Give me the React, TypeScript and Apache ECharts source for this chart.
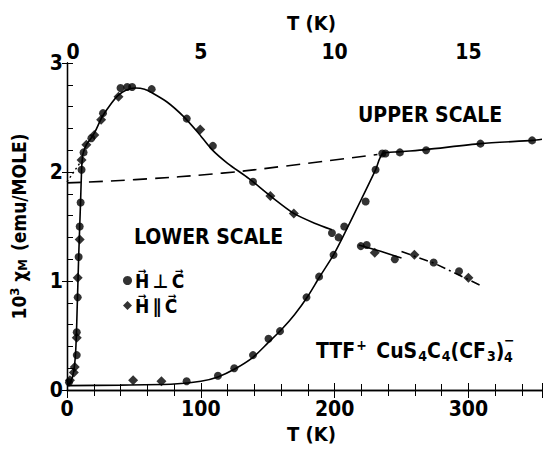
import React, { useEffect, useRef } from "react";
import * as echarts from "echarts";

// Lower temperature scale (K), 10^3 chi_M
const lowerPerp: [number, number][] = [
  [1.5, 0.07], [7.3, 0.32], [7.3, 0.53], [8.0, 0.85], [8.7, 1.22], [9.5, 1.5],
  [10.2, 1.72], [10.9, 2.02], [12.4, 2.18], [18.2, 2.31], [26.9, 2.54], [40, 2.77],
  [45, 2.78], [48.7, 2.78], [63.3, 2.76], [89.5, 2.49], [109, 2.24], [139, 1.91],
  [198, 1.44], [219.6, 1.32], [224, 1.33], [245, 1.2], [274, 1.17], [293, 1.09],
];
const lowerPar: [number, number][] = [
  [2.2, 0.09], [5.1, 0.16], [5.8, 0.21], [7.3, 0.48], [8.0, 1.03], [9.5, 1.38],
  [10.9, 2.11], [14.5, 2.25], [20.4, 2.34], [25.5, 2.48], [38.5, 2.69], [99.6, 2.39],
  [152, 1.78], [169.5, 1.62], [230, 1.26], [259.6, 1.24], [300, 1.03],
];
const lowerFit: [number, number][] = [
  [0, 0.05], [2, 0.06], [3.6, 0.1], [5, 0.17], [6.2, 0.3], [7, 0.5], [7.6, 0.75],
  [8.2, 1.0], [8.8, 1.25], [9.5, 1.5], [10.2, 1.75], [10.9, 2.02], [11.6, 2.14],
  [12.5, 2.19], [14.5, 2.25], [18, 2.31], [21, 2.37], [26, 2.5], [32, 2.61], [38, 2.7],
  [44, 2.75], [51, 2.77], [58, 2.76], [63, 2.73], [75, 2.64], [87, 2.51], [98, 2.36],
  [108, 2.21], [120, 2.08], [136, 1.94], [152, 1.78], [169.5, 1.62], [185, 1.53], [198, 1.47],
];
const lowerExtSolid: [number, number][] = [[218, 1.33], [235, 1.27], [250, 1.21]];
const lowerExtDash: [number, number][] = [[250, 1.27], [275, 1.16], [309, 0.96]];
const lowerExtrap: [number, number][] = [[0, 1.91], [9.5, 2.08]];

// Upper temperature scale (K)
const upperPerp: [number, number][] = [
  [4.47, 0.08], [5.64, 0.13], [6.25, 0.2], [6.95, 0.32], [7.53, 0.47], [7.96, 0.54],
  [8.95, 0.85], [9.42, 1.04], [9.96, 1.24], [10.15, 1.4], [10.36, 1.5], [11.16, 1.73],
  [11.53, 2.02], [11.78, 2.17], [11.9, 2.17], [12.44, 2.18], [13.42, 2.2], [15.45, 2.26],
  [17.38, 2.29],
];
const upperPar: [number, number][] = [[2.47, 0.09], [3.53, 0.08]];
const upperFit: [number, number][] = [
  [0, 0.04], [2, 0.045], [4, 0.055], [5, 0.08], [5.64, 0.12], [6.25, 0.19], [6.95, 0.3],
  [7.5, 0.43], [8, 0.55], [8.5, 0.69], [9, 0.86], [9.42, 1.03], [9.96, 1.24], [10.3, 1.4],
  [10.6, 1.55], [11, 1.75], [11.53, 2.02], [11.8, 2.17], [12.4, 2.185], [13.4, 2.205],
  [15.45, 2.26], [17.4, 2.29], [17.75, 2.3],
];
const upperDashed: [number, number][] = [
  [0, 1.9], [2.55, 1.93], [5.8, 1.99], [8.0, 2.05], [11.6, 2.16],
];

const lowerTicks = [0, 100, 200, 300];
const upperTicks = [0, 5, 10, 15];

const FONT = "DejaVu Sans Condensed";

export default function App() {
  const ref = useRef<HTMLDivElement>(null);
  useEffect(() => {
    document.body.style.margin = "0";
    const chart = echarts.init(ref.current!, null, { renderer: "svg" });
    const axisText = { color: "#000", fontFamily: FONT, fontWeight: "bold" as const, fontSize: 21 };
    const line = { lineStyle: { color: "#000", width: 1.3 } };
    chart.setOption({
      animation: false,
      backgroundColor: "#fff",
      grid: { left: 60, right: -3, top: 63, bottom: 59 },
      legend: {
        data: ["H⊥C", "H∥C"],
        orient: "vertical",
        left: 118,
        top: 266,
        itemWidth: 9,
        itemHeight: 9,
        itemGap: 6,
        formatter: (n: string) => (n === "H⊥C" ? "H\u20D7\u2009⊥\u2009C\u20D7" : "H\u20D7\u2009∥\u2009C\u20D7"),
        textStyle: { ...axisText, fontSize: 19, padding: [0, 0, 0, -2] },
      },
      xAxis: [
        {
          type: "value", position: "bottom", min: 0, max: 355, interval: 100,
          name: "T (K)", nameLocation: "middle", nameGap: 32,
          nameTextStyle: { ...axisText, fontSize: 20, padding: [0, 0, 0, 14] },
          axisLine: { show: true, ...line },
          axisTick: { inside: true, length: 7, lineStyle: { color: "#000" } },
          minorTick: { show: true, splitNumber: 5, length: 6, lineStyle: { color: "#000" } },
          splitLine: { show: false },
          axisLabel: { ...axisText, margin: 8, formatter: (v: number) => (lowerTicks.includes(v) ? String(v) : "") },
        },
        {
          type: "value", position: "top", min: 0, max: 17.75, interval: 5,
          name: "T (K)", nameLocation: "middle", nameGap: 30,
          nameTextStyle: { ...axisText, fontSize: 20, padding: [0, 0, 0, 14] },
          axisLine: { show: true, ...line },
          axisTick: { inside: true, length: 8, lineStyle: { color: "#000" } },
          minorTick: { show: true, splitNumber: 5, length: 6, lineStyle: { color: "#000" } },
          splitLine: { show: false },
          axisLabel: {
            ...axisText, margin: 1,
            formatter: (v: number) => (upperTicks.includes(v) ? (v === 0 ? "{z|0}" : String(v)) : ""),
            rich: { z: { ...axisText, padding: [0, 0, 0, 12] } },
          },
        },
      ],
      yAxis: [
        {
          type: "value", position: "left", min: 0, max: 3, interval: 1,
          name: "10{sup|3} χ{sub|M} (emu/MOLE)", nameLocation: "middle", nameGap: 38,
          nameTextStyle: {
            ...axisText, fontSize: 19,
            rich: {
              sup: { ...axisText, fontSize: 13, verticalAlign: "top", padding: [0, 0, 8, 0] },
              sub: { ...axisText, fontSize: 13, padding: [8, 2, 0, 0] },
            },
          },
          axisLine: { show: true, ...line },
          axisTick: { inside: true, length: 6, lineStyle: { color: "#000" } },
          minorTick: { show: true, splitNumber: 5, length: 6, lineStyle: { color: "#000" } },
          splitLine: { show: false },
          axisLabel: { ...axisText, margin: 4 },
        },
        {
          type: "value", position: "right", min: 0, max: 3, interval: 1,
          axisLine: { show: true, ...line },
          axisTick: { inside: true, length: 5, lineStyle: { color: "#000" } },
          splitLine: { show: false },
          axisLabel: { show: false },
        },
      ],
      series: [
        { type: "line", xAxisIndex: 0, data: lowerFit, smooth: 0.25, symbol: "none", lineStyle: { color: "#000", width: 1.6 } },
        { type: "line", xAxisIndex: 0, data: lowerExtSolid, symbol: "none", lineStyle: { color: "#000", width: 1.6 } },
        { type: "line", xAxisIndex: 0, data: lowerExtDash, symbol: "none", lineStyle: { color: "#000", width: 1.6, type: [9, 4, 2, 4] } },
        { type: "line", xAxisIndex: 0, data: lowerExtrap, symbol: "none", lineStyle: { color: "#000", width: 1.4, type: [2, 3] } },
        { type: "line", xAxisIndex: 1, data: upperFit, smooth: 0.25, symbol: "none", lineStyle: { color: "#000", width: 1.6 } },
        { type: "line", xAxisIndex: 1, data: upperDashed, smooth: true, symbol: "none", lineStyle: { color: "#000", width: 1.6, type: [14, 8] } },
        { name: "H⊥C", type: "scatter", xAxisIndex: 0, data: lowerPerp, symbol: "circle", symbolSize: 8, itemStyle: { color: "#000" } },
        { name: "H∥C", type: "scatter", xAxisIndex: 0, data: lowerPar, symbol: "diamond", symbolSize: 10, itemStyle: { color: "#000" } },
        { name: "H⊥C", type: "scatter", xAxisIndex: 1, data: upperPerp, symbol: "circle", symbolSize: 8, itemStyle: { color: "#000" } },
        { name: "H∥C", type: "scatter", xAxisIndex: 1, data: upperPar, symbol: "diamond", symbolSize: 10, itemStyle: { color: "#000" } },
      ],
      graphic: [
        { type: "text", left: 134, top: 226, style: { text: "LOWER SCALE", fill: "#000", font: `bold 21px "${FONT}"` } },
        { type: "text", left: 358, top: 104, style: { text: "UPPER SCALE", fill: "#000", font: `bold 21px "${FONT}"` } },
        {
          type: "text", left: 316, top: 338,
          style: {
            text: "TTF{sup|+} CuS{sub|4}C{sub|4}(CF{sub|3})",
            fill: "#000", font: `bold 21px "${FONT}"`,
            rich: {
              sup: { font: `bold 14px "${FONT}"`, fill: "#000", padding: [0, 3, 12, 1] },
              sub: { font: `bold 14px "${FONT}"`, fill: "#000", padding: [10, 0, 0, 1] },
            },
          },
        },
        { type: "text", left: 504, top: 350, style: { text: "4", fill: "#000", font: `bold 14px "${FONT}"` } },
        { type: "text", left: 504, top: 333, style: { text: "−", fill: "#000", font: `bold 14px "${FONT}"` } },
      ],
    });
    return () => chart.dispose();
  }, []);
  return <div ref={ref} style={{ width: 545, height: 449 }} />;
}
